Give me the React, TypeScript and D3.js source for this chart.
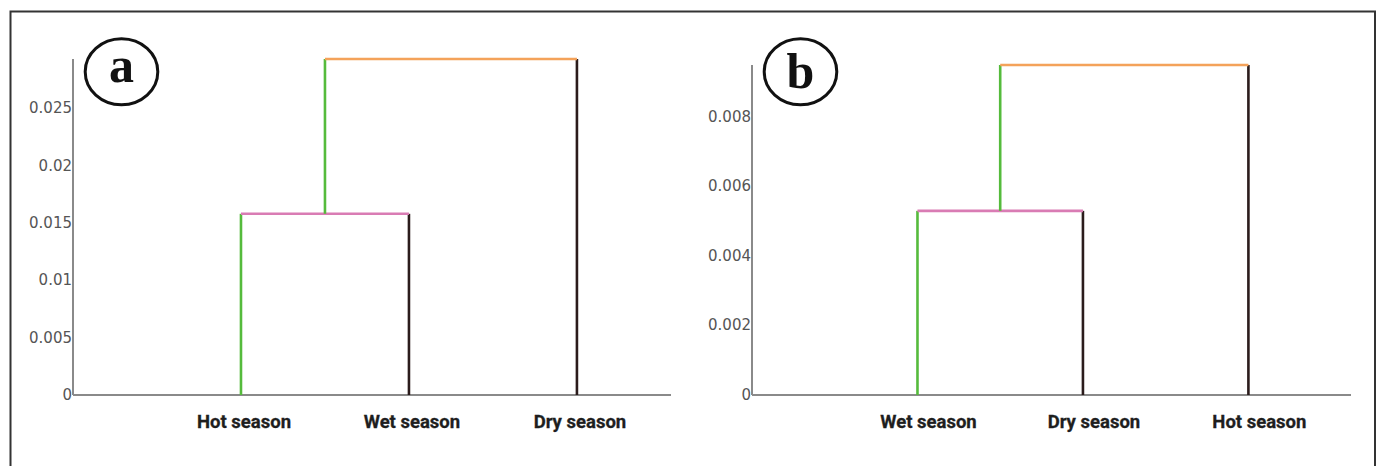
import React from "react";
import * as d3 from "d3";

const WIDTH = 1376;
const HEIGHT = 466;

// panel a
const leavesA = ["Hot season", "Wet season", "Dry season"];
const mergeHeightsA = [0.0158, 0.0293];
const ticksA = [0, 0.005, 0.01, 0.015, 0.02, 0.025];
const axisMaxA = 0.0293;

// panel b
const leavesB = ["Wet season", "Dry season", "Hot season"];
const mergeHeightsB = [0.00529, 0.00948];
const ticksB = [0, 0.002, 0.004, 0.006, 0.008];
const axisMaxB = 0.00948;

const mergeColors = ["#d97cb4", "#f4a25a"];
const LEFT_COLOR = "#55bb3c";
const RIGHT_COLOR = "#2b1c1c";
const AXIS_COLOR = "#8a8a8a";

type Node = { x: number; y: number };

const Dendrogram = ({ leaves, merges, ticks, axisMax, x0, x1, yTop, steps, labelDx, letter, letterDy }) => {
  const y0 = 395;
  const yScale = d3.scaleLinear().domain([0, axisMax]).range([y0, yTop]);
  const xScale = d3.scaleLinear().domain([0, steps]).range([x0, x1]);

  const leafNodes: Node[] = leaves.map((_, i) => ({ x: xScale(i + 1), y: yScale(0) }));

  // merges: first joins leaf 0 & 1, next joins that cluster with leaf 2
  const segs: { x1: number; y1: number; x2: number; y2: number; c: string }[] = [];
  let left: Node = leafNodes[0];
  merges.forEach((h, i) => {
    const right = leafNodes[i + 1];
    const yh = yScale(h);
    segs.push({ x1: left.x, y1: left.y, x2: left.x, y2: yh, c: LEFT_COLOR });
    segs.push({ x1: right.x, y1: right.y, x2: right.x, y2: yh, c: RIGHT_COLOR });
    segs.push({ x1: left.x, y1: yh, x2: right.x, y2: yh, c: mergeColors[i] });
    left = { x: (left.x + right.x) / 2, y: yh };
  });

  const fmt = (d: number) => String(+d.toFixed(4));

  return (
    <g>
      <line x1={x0} x2={x0} y1={yTop} y2={y0} stroke={AXIS_COLOR} strokeWidth={2} />
      <line x1={x0} x2={x1} y1={y0} y2={y0} stroke={AXIS_COLOR} strokeWidth={2} />
      {ticks.map((t) => (
        <text
          key={t}
          x={x0 - 1}
          y={yScale(t)}
          textAnchor="end"
          dominantBaseline="central"
          fontFamily="DejaVu Sans"
          fontSize={15}
          fill="#555"
        >
          {fmt(t)}
        </text>
      ))}
      {segs.map((s, i) => (
        <line key={i} x1={s.x1} y1={s.y1} x2={s.x2} y2={s.y2} stroke={s.c} strokeWidth={2.6} />
      ))}
      {leaves.map((l, i) => (
        <text
          key={l}
          x={xScale(i + 1) + labelDx}
          y={428}
          textAnchor="middle"
          fontFamily="Roboto"
          fontWeight="bold"
          fontSize={18.5}
          fill="#1e1e1e"
          stroke="#1e1e1e"
          strokeWidth={0.3}
        >
          {l}
        </text>
      ))}
      <ellipse cx={x0 + 48.5} cy={71.7} rx={36.3} ry={33} fill="none" stroke="#111" strokeWidth={3} />
      <text
        x={x0 + 48.5}
        y={71.7 + letterDy}
        textAnchor="middle"
        fontFamily="Liberation Serif"
        fontWeight="bold"
        fontSize={50}
        fill="#111"
      >
        {letter}
      </text>
    </g>
  );
};

export default function App() {
  return (
    <svg
      width={WIDTH}
      height={HEIGHT}
      style={{ position: "absolute", left: 0, top: 0, background: "#fff" }}
    >
      <rect x={0} y={0} width={WIDTH} height={HEIGHT} fill="#fff" />
      <rect x={10.5} y={11.5} width={1364.5} height={480} fill="none" stroke="#333" strokeWidth={2} />
      <Dendrogram
        leaves={leavesA}
        merges={mergeHeightsA}
        ticks={ticksA}
        axisMax={axisMaxA}
        x0={73}
        x1={671}
        yTop={59}
        steps={3.56}
        labelDx={3}
        letter="a"
        letterDy={10}
      />
      <Dendrogram
        leaves={leavesB}
        merges={mergeHeightsB}
        ticks={ticksB}
        axisMax={axisMaxB}
        x0={752}
        x1={1351}
        yTop={65}
        steps={3.62}
        labelDx={11}
        letter="b"
        letterDy={16}
      />
    </svg>
  );
}
